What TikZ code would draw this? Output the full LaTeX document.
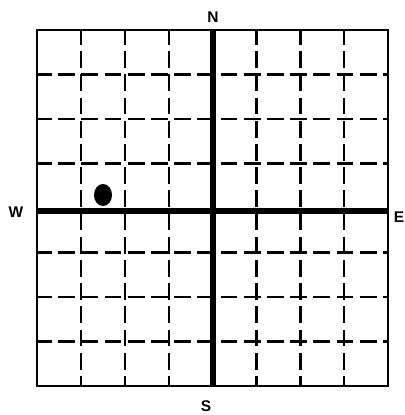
\documentclass[tikz,border=0pt]{standalone}
\usepackage{fontspec}
\setmainfont{Liberation Sans}
\usepackage{tikz}
\tikzset{
    frame/.style={draw=black, line width=1.4pt},
    axis/.style={draw=black, line width=3.6pt},
    gridline/.style={draw=black, line width=1.7pt, dash pattern=on 0.42cm off 0.16cm, dash phase=0.05cm},
    compass/.style={font=\bfseries\fontsize{11}{11}\selectfont, inner sep=0pt}
}

\begin{document}
\begin{tikzpicture}[x=0.025cm, y=-0.025cm]
    \useasboundingbox (0,0) rectangle (404,415);
    % dashed grid
    \foreach \i in {1,2,3,5,6,7} {
        \draw[gridline] (37+\i*43.9,30) -- (37+\i*43.9,386);
        \draw[gridline] (37,30+\i*44.5) -- (388,30+\i*44.5);
    }
    % outer square and the two axes
    \draw[frame] (37,30) rectangle (388,386);
    \draw[axis] (213,30) -- (213,386);
    \draw[axis] (37,211) -- (388,211);
    % marker
    \fill[black] (103,195) ellipse (9 and 11);
    % labels
    \node[compass] (north) at (213,17) {N};
    \node[compass] (south) at (206,406) {S};
    \node[compass] (west) at (16,212) {W};
    \node[compass] (east) at (399,217) {E};
\end{tikzpicture}
\end{document}
